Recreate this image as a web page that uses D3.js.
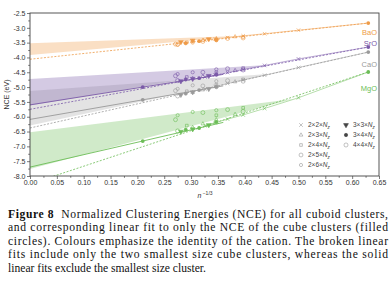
<!DOCTYPE html>
<html>
<head>
<meta charset="utf-8">
<script src="https://cdn.jsdelivr.net/npm/d3@7"></script>
<style>
  body { margin: 0; background: #fff; }
  svg { display: block; }
  .tick text { font-family: "Liberation Sans", Arial, sans-serif; font-size: 7px; fill: #333; }
  .caption { font-family: "Liberation Serif", "DejaVu Serif", serif; font-size: 11.6px; fill: #111; }
</style>
</head>
<body>
<div id="chart"></div>
<script>
// cations, top to bottom
const cations = ['BaO', 'SrO', 'CaO', 'MgO'];

// cube clusters (filled circles): 6x6x6, 4x4x4, 2x2x2
const cubeX = [0.210, 0.315, 0.630];
const baoCube = [null, -3.45, -2.84];
const sroCube = [-5.00, -4.70, -3.65];
const caoCube = [-5.43, -5.10, -3.82];
const mgoCube = [-6.82, -6.38, -4.49];

// cuboid families (legend order)
const families = ['2×2×', '2×3×', '2×4×', '2×5×', '2×6×', '3×3×', '3×4×', '4×4×'];

// every cuboid cluster: family index and n^-1/3
const clusterFamily = [0, 0, 0, 0, 0, 0, 1, 1, 1, 1, 2, 2, 2, 3, 3, 3, 4, 4, 4, 5, 5, 5, 6, 6, 7, 7];
const clusterX = [0.500, 0.437, 0.397, 0.368, 0.345, 0.326,
  0.382, 0.347, 0.322, 0.303,
  0.397, 0.347, 0.292,
  0.368, 0.322, 0.271,
  0.347, 0.303, 0.275,
  0.333, 0.303, 0.281,
  0.347, 0.290,
  0.397, 0.275];
const baoNCE = [-3.08, -3.20, -3.27, -3.33, -3.37, -3.41,
  -3.30, -3.36, -3.42, -3.45,
  -3.31, -3.40, -3.49,
  -3.36, -3.46, -3.55,
  -3.42, -3.50, -3.57,
  -3.38, -3.43, -3.48,
  -3.41, -3.52,
  -3.34, -3.56];
const sroNCE = [-4.05, -4.27, -4.41, -4.51, -4.59, -4.66,
  -4.44, -4.56, -4.64, -4.71,
  -4.36, -4.50, -4.66,
  -4.38, -4.50, -4.62,
  -4.40, -4.50, -4.56,
  -4.62, -4.72, -4.80,
  -4.58, -4.74,
  -4.42, -4.78];
const caoNCE = [-4.34, -4.60, -4.76, -4.88, -4.98, -5.07,
  -4.82, -4.98, -5.09, -5.18,
  -4.74, -4.92, -5.14,
  -4.78, -4.96, -5.12,
  -4.80, -4.94, -5.06,
  -5.06, -5.17, -5.26,
  -5.00, -5.22,
  -4.80, -5.30];
const mgoNCE = [-5.36, -5.72, -5.94, -6.08, -6.20, -6.30,
  -5.92, -6.10, -6.24, -6.36,
  -5.70, -5.95, -6.30,
  -5.76, -5.86, -6.10,
  -5.78, -5.84, -5.95,
  -6.28, -6.42, -6.50,
  -6.18, -6.44,
  -5.82, -6.48];

// spread of the cuboid fits (shaded fans): value at x = 0 and where they close
const bandTop0 = [-3.52, -4.73, -5.13, -6.52];
const bandBottom0 = [-3.92, -5.62, -6.30, -7.76];
const bandEndX = [0.40, 0.45, 0.45, 0.49];
const bandEnd = [-3.27, -4.25, -4.55, -5.40];

const xTicks = d3.range(0, 0.651, 0.05);
const yTicks = d3.range(-8, -2.49, 0.5);

const cubes = [baoCube, sroCube, caoCube, mgoCube];
const nces = [baoNCE, sroNCE, caoNCE, mgoNCE];
const colors = ['#ee9b48', '#7a59a8', '#9a9a9a', '#6cbd57'];
const symbols = [d3.symbolTimes, d3.symbolTriangle2, d3.symbolSquare2, d3.symbolCircle,
  d3.symbolCircle, d3.symbolTriangle, d3.symbolCircle, d3.symbolCircle];
const symbolSize = [10, 10, 9, 12, 8, 10, 9, 13];
const symbolFilled = [false, false, false, false, false, true, true, false];

const width = 392, height = 283;
const x = d3.scaleLinear().domain([0, 0.65]).range([30, 379]);
const y = d3.scaleLinear().domain([-8, -2.5]).range([176, 13]);

const svg = d3.select('#chart').append('svg')
  .attr('width', width)
  .attr('height', height);

svg.append('clipPath').attr('id', 'plot')
  .append('rect')
  .attr('x', x(0)).attr('y', y(-2.5))
  .attr('width', x(0.65) - x(0)).attr('height', y(-8) - y(-2.5));

const plot = svg.append('g').attr('clip-path', 'url(#plot)');

// least squares line through points
function fit(pts) {
  const mx = d3.mean(pts, (d) => d[0]);
  const my = d3.mean(pts, (d) => d[1]);
  const sxy = d3.sum(pts, (d) => (d[0] - mx) * (d[1] - my));
  const sxx = d3.sum(pts, (d) => (d[0] - mx) * (d[0] - mx));
  const slope = sxy / sxx;
  return { slope, intercept: my - slope * mx };
}

const line = d3.line().x((d) => x(d[0])).y((d) => y(d[1]));

// shaded fans, bottom cation first so overlaps darken
[3, 2, 1, 0].forEach((i) => {
  const poly = [[0, bandTop0[i]], [bandEndX[i], bandEnd[i]], [0, bandBottom0[i]]];
  plot.append('path')
    .attr('d', line(poly) + 'Z')
    .attr('fill', colors[i])
    .attr('fill-opacity', i == 2 ? 0.28 : 0.32)
    .attr('stroke', 'none');
});

cations.forEach((c, i) => {
  const col = colors[i];
  const cube = cubeX.map((v, k) => [v, cubes[i][k]]).filter((d) => d[1] != null);

  // broken fit: two smallest cubes
  const dash = fit(cube.filter((d) => d[0] > 0.3));
  plot.append('path')
    .attr('d', line([[0, dash.intercept], [0.63, dash.intercept + dash.slope * 0.63]]))
    .attr('fill', 'none').attr('stroke', col)
    .attr('stroke-width', 0.8).attr('stroke-dasharray', '2,1.5');

  // solid fit: without the smallest cube
  const rest = cube.filter((d) => d[0] < 0.6);
  if (rest.length > 1) {
    const sol = fit(rest);
    plot.append('path')
      .attr('d', line([[0, sol.intercept], [0.36, sol.intercept + sol.slope * 0.36]]))
      .attr('fill', 'none').attr('stroke', col).attr('stroke-width', 0.9);
  }

  // 2x2xNz series joined up to the 2x2x2 cube
  const series = clusterX.map((v, k) => [v, nces[i][k], clusterFamily[k]])
    .filter((d) => d[2] == 0);
  series.unshift([0.63, cubes[i][2]]);
  plot.append('path')
    .attr('d', line(series))
    .attr('fill', 'none').attr('stroke', col).attr('stroke-width', 0.5);

  // cuboid markers
  plot.selectAll(null)
    .data(clusterX.map((v, k) => ({ x: v, v: nces[i][k], f: clusterFamily[k] })))
    .enter().append('path')
    .attr('transform', (d) => `translate(${x(d.x)},${y(d.v)})` + (d.f == 5 ? ' rotate(180)' : ''))
    .attr('d', (d) => d3.symbol(symbols[d.f], symbolSize[d.f])())
    .attr('fill', (d) => symbolFilled[d.f] ? col : 'none')
    .attr('stroke', col).attr('stroke-width', 0.6);

  // cubes
  plot.selectAll(null)
    .data(cube)
    .enter().append('circle')
    .attr('cx', (d) => x(d[0])).attr('cy', (d) => y(d[1]))
    .attr('r', 1.9)
    .attr('fill', col);
});

// cation names at the right end
const labelShift = [9, -4, 12, 16];
cations.forEach((c, i) => {
  svg.append('text')
    .attr('x', 377).attr('y', y(cubes[i][2]) + labelShift[i])
    .attr('dy', '0.35em')
    .attr('text-anchor', 'end')
    .attr('font-family', 'Liberation Sans, Arial, sans-serif')
    .attr('font-size', 7.5)
    .attr('fill', colors[i])
    .text(c);
});

// axes
svg.append('g')
  .attr('transform', `translate(0,${y(-8)})`)
  .call(d3.axisBottom(x).tickValues(xTicks).tickSize(3).tickPadding(1.5)
    .tickFormat((d) => d.toFixed(2)))
  .call((g) => g.select('.domain').remove());
svg.append('g')
  .attr('transform', `translate(0,${y(-8)})`)
  .call(d3.axisBottom(x).tickValues(d3.range(0.025, 0.65, 0.05)).tickSize(1.8).tickFormat(''))
  .call((g) => g.select('.domain').remove());
svg.append('g')
  .attr('transform', `translate(${x(0)},0)`)
  .call(d3.axisLeft(y).tickValues(yTicks).tickSize(3).tickPadding(1.5)
    .tickFormat((d) => d.toFixed(1)))
  .call((g) => g.select('.domain').remove());
svg.append('g')
  .attr('transform', `translate(${x(0)},0)`)
  .call(d3.axisLeft(y).tickValues(d3.range(-7.75, -2.5, 0.5)).tickSize(1.8).tickFormat(''))
  .call((g) => g.select('.domain').remove());
svg.selectAll('.tick line').attr('stroke', '#444').attr('stroke-width', 0.7);

svg.append('rect')
  .attr('x', x(0)).attr('y', y(-2.5))
  .attr('width', x(0.65) - x(0)).attr('height', y(-8) - y(-2.5))
  .attr('fill', 'none').attr('stroke', '#444').attr('stroke-width', 0.9);

// axis titles
svg.append('text')
  .attr('transform', `translate(9,${(y(-2.5) + y(-8)) / 2}) rotate(-90)`)
  .attr('text-anchor', 'middle')
  .attr('font-family', 'Liberation Sans, Arial, sans-serif')
  .attr('font-size', 7).attr('fill', '#333')
  .text('NCE (eV)');
const xt = svg.append('text')
  .attr('x', 205).attr('y', 198)
  .attr('text-anchor', 'middle')
  .attr('font-family', 'Liberation Sans, Arial, sans-serif')
  .attr('font-size', 7).attr('fill', '#333');
xt.append('tspan').attr('font-style', 'italic').text('n');
xt.append('tspan').attr('dy', -3).attr('font-size', 5).text(' −1/3');

// legend
const legendPos = [[301, 125], [301, 135], [301, 145], [301, 155], [301, 165],
  [346, 125], [346, 135], [346, 145]];
families.forEach((f, k) => {
  const [lx, ly] = legendPos[k];
  svg.append('path')
    .attr('transform', `translate(${lx},${ly})` + (k == 5 ? ' rotate(180)' : ''))
    .attr('d', d3.symbol(symbols[k], symbolSize[k])())
    .attr('fill', symbolFilled[k] ? '#444' : 'none')
    .attr('stroke', symbolFilled[k] ? '#444' : '#999').attr('stroke-width', 0.6);
  const t = svg.append('text')
    .attr('x', lx + 7).attr('y', ly).attr('dy', '0.35em')
    .attr('font-family', 'Liberation Sans, Arial, sans-serif')
    .attr('font-size', 6.5).attr('fill', '#444');
  t.append('tspan').text(f);
  t.append('tspan').attr('font-style', 'italic').text('N');
  t.append('tspan').attr('dy', 1.5).attr('font-size', 4.5).attr('font-style', 'italic').text('z');
});

// caption
const captionLines = [
  'Normalized Clustering Energies (NCE) for all cuboid clusters,',
  'and corresponding linear fit to only the NCE of the cube clusters (filled',
  'circles). Colours emphasize the identity of the cation. The broken linear',
  'fits include only the two smallest size cube clusters, whereas the solid',
  'linear fits exclude the smallest size cluster.'
];
const cap = svg.append('g').attr('class', 'caption');
captionLines.forEach((txt, k) => {
  const t = cap.append('text')
    .attr('x', 8).attr('y', 218 + k * 13.4);
  if (k < 4) t.attr('textLength', 380).attr('lengthAdjust', 'spacing');
  if (k == 0) {
    t.append('tspan').attr('font-weight', 'bold').text('Figure 8');
    t.append('tspan').text('\u00a0 ' + txt);
  } else {
    t.text(txt);
  }
});
</script>
</body>
</html>
